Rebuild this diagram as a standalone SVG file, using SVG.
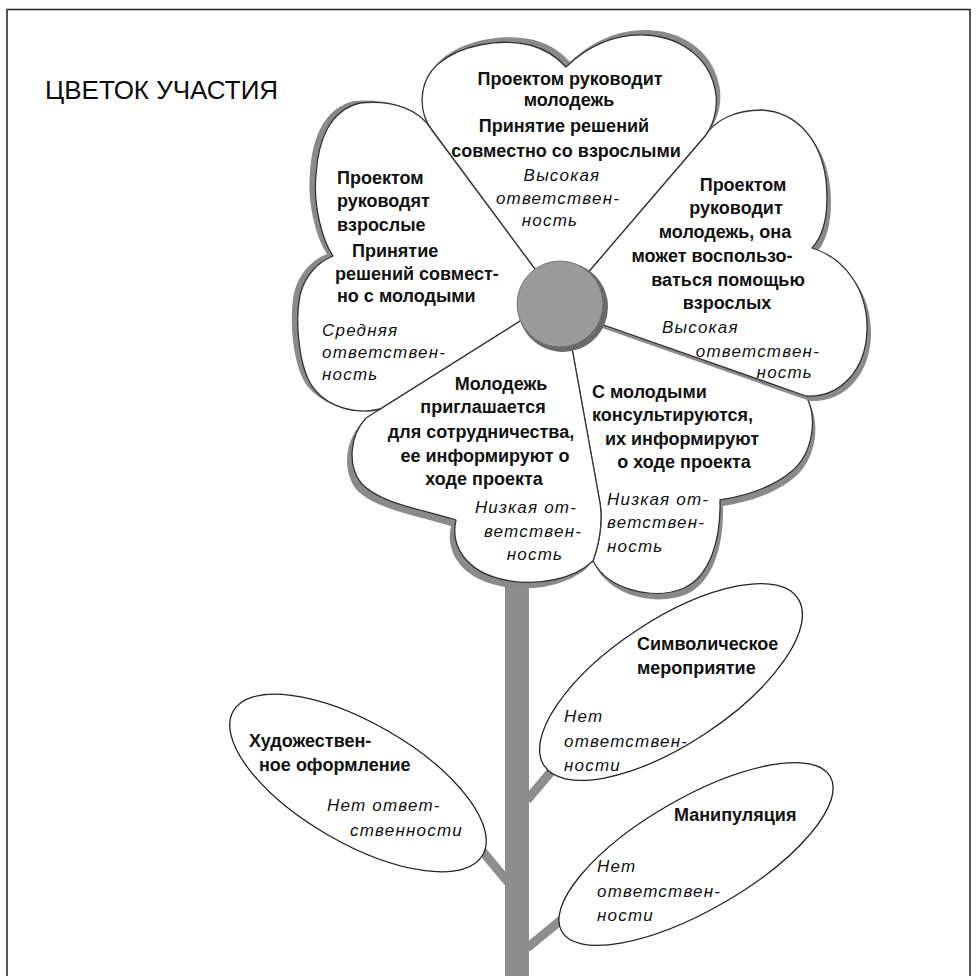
<svg xmlns="http://www.w3.org/2000/svg" width="977" height="976" viewBox="0 0 977 976">
<style>
.b{font-family:"Liberation Sans",Arial,sans-serif;font-weight:bold;font-size:18px;fill:#111}
.i{font-family:"Liberation Sans",Arial,sans-serif;font-style:italic;font-size:17px;letter-spacing:1.2px;fill:#111}
.m{text-anchor:middle}
.e{text-anchor:end}
.petal{fill:#fff;stroke:#333;stroke-width:1.3;stroke-linejoin:round}
.shadow{fill:#8a8a8a;stroke:none}
.leaf{fill:#fff;stroke:#222;stroke-width:1.3}
.stem{stroke:#8e8e8e;stroke-width:9}
</style>
<defs>
<path id="pT" d="M561,304 L432,130 C418,112 418,82 438,64 C460,45 500,38 530,45 C548,50 558,58 566,67 C588,46 615,34 645,35 C685,37 712,62 716,95 C718,112 712,127 705,136 Z"/>
<path id="pL" d="M561,304 L432,130 C420,110 395,100 360,103 C330,110 318,140 316,175 C313,205 322,240 333,256 C318,262 305,275 300,295 C295,320 298,370 315,390 C330,408 358,415 380,409 L550,302 Z"/>
<path id="pR" d="M561,304 L705,136 C715,120 735,110 762,110 C797,112 821,140 826,180 C829,210 825,234 812,248 C845,258 868,290 867,330 C866,370 840,398 806,396 L561,310 Z"/>
<path id="pBR" d="M561,310 L806,396 C818,418 813,453 792,471 C772,488 745,496 720,500 C721,540 710,576 684,588 C654,601 608,590 593,561 Q604,530 600,503 L564,304 Z"/>
<path id="pBL" d="M550,302 L366,418 C350,435 347,465 361,483 C379,503 420,509 456,520 C450,546 466,572 505,580 C540,587 575,578 593,561 Q604,530 600,503 L564,304 Z"/>
</defs>
<rect id="border" x="7" y="9.5" width="963" height="1000" fill="none" stroke="#222" stroke-width="1.5"/>
<text id="title" x="45" y="99" font-family="Liberation Sans, Arial, sans-serif" font-size="26" fill="#0a0a0a">ЦВЕТОК УЧАСТИЯ</text>
<g id="connectors">
<rect x="505" y="570" width="24" height="406" fill="#8e8e8e"/>
<line class="stem" x1="527" y1="800" x2="556" y2="766"/>
<line class="stem" x1="527" y1="948" x2="566" y2="916"/>
<line class="stem" x1="478" y1="846" x2="508" y2="882"/>
</g>
<g id="petal-bottom-right">
<use href="#pBR" class="shadow" transform="translate(3,6)"/>
<use href="#pBR" class="petal"/>
<text class="b" x="592" y="398">С молодыми</text>
<text class="b" x="592" y="421">консультируются,</text>
<text class="b m" x="682" y="445">их информируют</text>
<text class="b m" x="684" y="468">о ходе проекта</text>
<text class="i" x="607" y="505">Низкая от-</text>
<text class="i" x="607" y="528">ветствен-</text>
<text class="i" x="607" y="552">ность</text>
</g>
<g id="petal-bottom-left">
<use href="#pBL" class="shadow" transform="translate(-5,6)"/>
<use href="#pBL" class="petal"/>
<text class="b m" x="501" y="390">Молодежь</text>
<text class="b m" x="483" y="413">приглашается</text>
<text class="b m" x="481" y="438">для сотрудничества,</text>
<text class="b m" x="485" y="462">ее информируют о</text>
<text class="b m" x="484" y="485">ходе проекта</text>
<text class="i m" x="526" y="513">Низкая от-</text>
<text class="i m" x="533" y="537">ветствен-</text>
<text class="i m" x="535" y="560">ность</text>
</g>
<g id="petal-left">
<use href="#pL" class="shadow" transform="translate(-6,-2)"/>
<use href="#pL" class="petal"/>
<text class="b" x="337" y="184">Проектом</text>
<text class="b" x="337" y="207">руководят</text>
<text class="b" x="337" y="231">взрослые</text>
<text class="b" x="352" y="257">Принятие</text>
<text class="b" x="335" y="280">решений совмест-</text>
<text class="b" x="337" y="302">но с молодыми</text>
<text class="i" x="322" y="336">Средняя</text>
<text class="i" x="322" y="358">ответствен-</text>
<text class="i" x="322" y="380">ность</text>
</g>
<g id="petal-right">
<use href="#pR" class="shadow" transform="translate(4,5)"/>
<use href="#pR" class="petal"/>
<text class="b m" x="743" y="191">Проектом</text>
<text class="b m" x="736" y="214">руководит</text>
<text class="b m" x="725" y="238">молодежь, она</text>
<text class="b m" x="712" y="262">может воспользо-</text>
<text class="b m" x="728" y="286">ваться помощью</text>
<text class="b m" x="727" y="309">взрослых</text>
<text class="i" x="662" y="333">Высокая</text>
<text class="i e" x="820" y="357">ответствен-</text>
<text class="i e" x="813" y="378">ность</text>
</g>
<g id="petal-top">
<use href="#pT" class="shadow" transform="translate(4,-5)"/>
<use href="#pT" class="petal"/>
<text class="b m" x="570" y="85">Проектом руководит</text>
<text class="b m" x="569" y="106">молодежь</text>
<text class="b m" x="564" y="132">Принятие решений</text>
<text class="b m" x="566" y="157">совместно со взрослыми</text>
<text class="i m" x="562" y="181">Высокая</text>
<text class="i m" x="558" y="204">ответствен-</text>
<text class="i m" x="550" y="226">ность</text>
</g>
<g id="center">
<circle cx="563" cy="307" r="45" fill="#6a6a6a"/>
<circle cx="560" cy="304" r="43" fill="#9a9a9a" stroke="#666" stroke-width="0.8"/>
</g>
<g id="leaf-symbolic">
<ellipse class="leaf" cx="671" cy="682" rx="152" ry="62" transform="rotate(-33.4 671 682)"/>
<text class="b" x="637" y="650">Символическое</text>
<text class="b" x="637" y="674">мероприятие</text>
<text class="i" x="564" y="722">Нет</text>
<text class="i" x="564" y="747">ответствен-</text>
<text class="i" x="564" y="771">ности</text>
</g>
<g id="leaf-manipulation">
<ellipse class="leaf" cx="696" cy="854" rx="155" ry="56" transform="rotate(-30 696 854)"/>
<text class="b" x="674" y="821">Манипуляция</text>
<text class="i" x="597" y="872">Нет</text>
<text class="i" x="597" y="897">ответствен-</text>
<text class="i" x="597" y="921">ности</text>
</g>
<g id="leaf-decoration">
<ellipse class="leaf" cx="358" cy="783" rx="144" ry="60" transform="rotate(30 358 783)"/>
<text class="b" x="249" y="747">Художествен-</text>
<text class="b" x="259" y="771">ное оформление</text>
<text class="i" x="327" y="811">Нет ответ-</text>
<text class="i" x="350" y="836">ственности</text>
</g>
</svg>
